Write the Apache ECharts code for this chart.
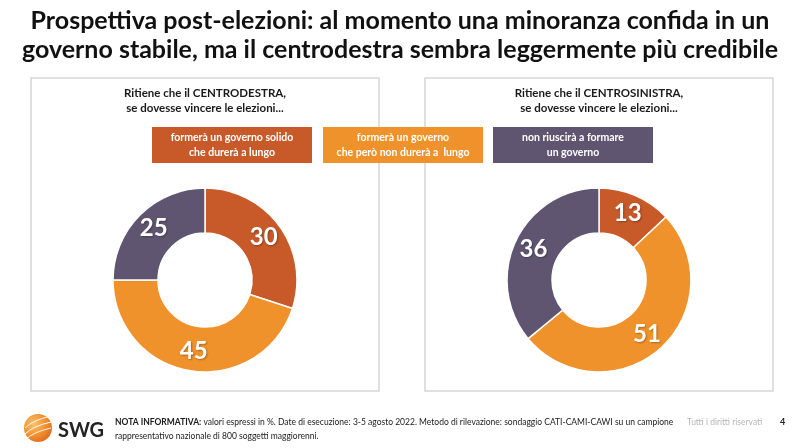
<!DOCTYPE html>
<html>
<head>
<meta charset="utf-8">
<script src="https://cdn.jsdelivr.net/npm/echarts@6/dist/echarts.min.js"></script>
<style>
html,body{margin:0;padding:0;background:#fff;}
#c{width:800px;height:448px;}
</style>
</head>
<body>
<div id="c"></div>
<script>
// ---- data ----
const titleLines = [
  "Prospettiva post-elezioni: al momento una minoranza confida in un",
  "governo stabile, ma il centrodestra sembra leggermente più credibile"
];
const categories = [
  "formerà un governo solido\nche durerà a lungo",
  "formerà un governo\nche però non durerà a  lungo",
  "non riuscirà a formare\nun governo"
];
const panelTitles = [
  "Ritiene che il CENTRODESTRA,\nse dovesse vincere le elezioni...",
  "Ritiene che il CENTROSINISTRA,\nse dovesse vincere le elezioni..."
];
const centrodestraValues = [30, 45, 25];
const centrosinistraValues = [13, 51, 36];
const noteBold = "NOTA INFORMATIVA:";
const noteText = " valori espressi in %. Date di esecuzione: 3-5 agosto 2022. Metodo di rilevazione: sondaggio CATI-CAMI-CAWI su un campione";
const noteText2 = "rappresentativo nazionale di 800 soggetti maggiorenni.";
const rightsText = "Tutti i diritti riservati";
const pageNumber = "4";
const logoText = "SWG";

const colors = ['#C75A28', '#F0922B', '#5F5571'];
const FONT = 'Lato, "Noto Sans", sans-serif';

const chart = echarts.init(document.getElementById('c'), null, {renderer: 'canvas'});

function pieSeries(values, cx) {
  return {
    type: 'pie',
    center: [cx, 280],
    radius: [47, 92],
    startAngle: 90,
    clockwise: true,
    silent: true,
    itemStyle: {borderColor: '#ffffff', borderWidth: 1.5},
    label: {
      show: true, position: 'inside', formatter: '{c}',
      color: '#ffffff', fontFamily: FONT, fontWeight: 'bold', fontSize: 24,
      textShadowColor: 'rgba(0,0,0,0.3)', textShadowBlur: 2, textShadowOffsetX: 1, textShadowOffsetY: 1
    },
    labelLine: {show: false},
    data: values.map((v, i) => ({value: v, name: categories[i], itemStyle: {color: colors[i]}}))
  };
}

const graphics = [];
// title
titleLines.forEach((t, i) => {
  graphics.push({type: 'text', style: {text: t, x: 400, y: 21 + i * 29, textAlign: 'center', textVerticalAlign: 'middle',
    fontFamily: FONT, fontWeight: 'bold', fontSize: 25, fill: '#111111'}});
});
// panels
[[31, 205], [425, 599]].forEach((p, i) => {
  graphics.push({type: 'rect', shape: {x: p[0], y: 78, width: 348, height: 313},
    style: {fill: 'none', stroke: '#d6d6d6', lineWidth: 1.5}});
  graphics.push({type: 'text', style: {text: panelTitles[i], x: p[1], y: 101, textAlign: 'center', textVerticalAlign: 'middle',
    fontFamily: FONT, fontWeight: 'bold', fontSize: 11.5, lineHeight: 15, fill: '#1a1a1a'}});
});
// legend boxes
const boxX = [152, 323, 493];
categories.forEach((c, i) => {
  graphics.push({type: 'rect', shape: {x: boxX[i], y: 127, width: 160, height: 36}, style: {fill: colors[i]}, z: 10});
  graphics.push({type: 'text', z: 11, style: {text: c, x: boxX[i] + 80, y: 145, textAlign: 'center', textVerticalAlign: 'middle',
    fontFamily: FONT, fontWeight: 'bold', fontSize: 10.5, lineHeight: 15, fill: '#ffffff'}});
});
// logo
graphics.push({type: 'circle', shape: {cx: 38, cy: 428, r: 14},
  style: {fill: new echarts.graphic.RadialGradient(0.35, 0.35, 0.8, [{offset: 0, color: '#FBC26A'}, {offset: 0.6, color: '#F08A2A'}, {offset: 1, color: '#D9601E'}])}});
[[-6, 0.9], [0, 1.0], [6, 0.9]].forEach(a => {
  graphics.push({type: 'bezierCurve', shape: {x1: 25, y1: 428 + a[0] + 6, cpx1: 33, cpy1: 428 + a[0] - 2, x2: 51, y2: 428 + a[0] - 6},
    style: {stroke: '#ffffff', lineWidth: a[1], fill: 'none'}});
});
graphics.push({type: 'text', style: {text: logoText, x: 58, y: 431, textVerticalAlign: 'middle', fontFamily: FONT, fontWeight: 'bold', fontSize: 20, fill: '#222222'}});
// note
graphics.push({type: 'text', style: {
  text: '{b|' + noteBold + '}{r|' + noteText + '}\n{r|' + noteText2 + '}', x: 115, y: 429, textVerticalAlign: 'middle',
  lineHeight: 14,
  rich: {b: {fontFamily: FONT, fontWeight: 'bold', fontSize: 8.5, fill: '#1a1a1a', lineHeight: 14},
         r: {fontFamily: FONT, fontSize: 8.5, fill: '#1a1a1a', lineHeight: 14}}
}});
graphics.push({type: 'text', style: {text: rightsText, x: 687, y: 422, textVerticalAlign: 'middle', fontFamily: FONT, fontSize: 8.5, fill: '#b5b5b5'}});
graphics.push({type: 'text', style: {text: pageNumber, x: 780, y: 422, textVerticalAlign: 'middle', fontFamily: FONT, fontWeight: 'bold', fontSize: 9, fill: '#222222'}});

chart.setOption({
  backgroundColor: '#ffffff',
  animation: false,
  series: [pieSeries(centrodestraValues, 205), pieSeries(centrosinistraValues, 599)],
  graphic: {elements: graphics}
});
</script>
</body>
</html>
